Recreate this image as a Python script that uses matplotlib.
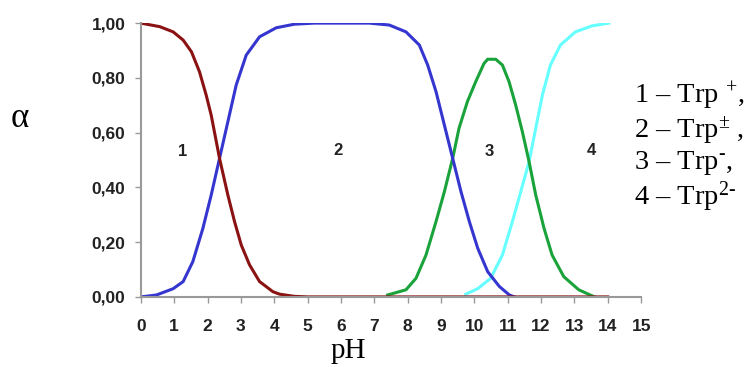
import matplotlib
matplotlib.use("Agg")
from matplotlib import pyplot as plt

# values
ph_1 = [0, 0.57, 0.97, 1.27, 1.52, 1.76, 1.96, 2.11, 2.36, 2.61, 2.81, 3.01, 3.26, 3.56, 3.96, 4.16,
        4.6, 5.0, 7.0, 9.0, 11.0, 14.0]
a_1 = [1.0, 0.987, 0.968, 0.938, 0.895, 0.822, 0.737, 0.664, 0.506, 0.372, 0.275, 0.19, 0.117, 0.056, 0.019, 0.01,
       0.002, 0.0, 0.0, 0.0, 0.0, 0.0]

ph_2 = [0, 0.47, 0.97, 1.27, 1.56, 1.86, 2.11, 2.36, 2.61, 2.86, 3.16, 3.56, 4.06, 4.6, 5.2, 6.85,
        7.45, 7.95, 8.35, 8.6, 8.85, 9.1, 9.35, 9.6, 9.85, 10.1, 10.4, 10.75, 11.05, 11.2]
a_2 = [0.0, 0.007, 0.03, 0.056, 0.129, 0.25, 0.372, 0.506, 0.64, 0.774, 0.883, 0.95, 0.983, 0.996, 1.0, 1.0,
       0.993, 0.968, 0.92, 0.847, 0.75, 0.628, 0.506, 0.384, 0.275, 0.178, 0.092, 0.038, 0.007, 0.0]

ph_3 = [7.4, 7.95, 8.25, 8.55, 8.85, 9.1, 9.35, 9.54, 9.79, 10.04, 10.29, 10.4, 10.64, 10.84, 11.04, 11.24,
        11.44, 11.64, 11.84, 12.09, 12.33, 12.68, 13.13, 13.58]
a_3 = [0.007, 0.026, 0.068, 0.153, 0.275, 0.384, 0.506, 0.616, 0.713, 0.786, 0.853, 0.868, 0.868, 0.847, 0.786, 0.70,
       0.603, 0.494, 0.372, 0.25, 0.153, 0.074, 0.026, 0.001]

ph_4 = [9.74, 10.1, 10.49, 10.84, 11.14, 11.39, 11.64, 11.84, 12.04, 12.28, 12.58, 13.03, 13.53, 14.03]
a_4 = [0.01, 0.03, 0.068, 0.153, 0.275, 0.384, 0.494, 0.616, 0.737, 0.847, 0.92, 0.968, 0.99, 1.0]

area_labels = ["1", "2", "3", "4"]
area_x = [1.26, 5.92, 10.44, 13.52]
area_y = [0.53, 0.535, 0.53, 0.535]

legend_lines = ["1 – Trp $^{+}$,", "2 – Trp$^{\u00b1}$ ,", "3 – Trp$^{\u2010}$,", "4 – Trp$^{2\u2010}$"]

x_ticks = list(range(16))
y_ticks = [0, 0.2, 0.4, 0.6, 0.8, 1.0]
y_txt = ["0,00", "0,20", "0,40", "0,60", "0,80", "1,00"]

plt.rcParams['mathtext.fontset'] = 'custom'
plt.rcParams['mathtext.rm'] = 'Liberation Serif'
plt.rcParams['mathtext.it'] = 'Liberation Serif'

fig = plt.figure(figsize=(7.49, 3.67), dpi=100)
ax = fig.add_axes([0.188, 0.191, 0.668, 0.746])

lw = 2.2
ax.plot(ph_4, a_4, color="#66ffff", lw=lw, solid_joinstyle="round")
ax.plot(ph_3, a_3, color="#1aa33a", lw=lw, solid_joinstyle="round")
ax.plot(ph_2, a_2, color="#3535d0", lw=lw, solid_joinstyle="round")
ax.plot(ph_1, a_1, color="#8b1212", lw=lw, solid_joinstyle="round")

for lab, x, y in zip(area_labels, area_x, area_y):
    ax.text(x, y, lab, ha="center", va="center", fontsize=12, fontweight="bold",
            family="Liberation Sans", color="#222222")

ax.set_xlim(0, 15)
ax.set_ylim(0, 1.0)
ax.set_xticks(x_ticks)
ax.set_xticklabels([str(t) for t in x_ticks])
ax.set_yticks(y_ticks)
ax.set_yticklabels(y_txt)
for lbl in ax.get_xticklabels() + ax.get_yticklabels():
    lbl.set_fontweight("bold")
    lbl.set_family("Liberation Sans")
    lbl.set_fontsize(12.5)
    lbl.set_color("#222222")
ax.tick_params(axis="both", color="#999999", length=4, width=1)
ax.tick_params(axis="x", pad=12)
ax.tick_params(axis="y", pad=7)

ax.spines["top"].set_visible(False)
ax.spines["right"].set_visible(False)
for s in ["left", "bottom"]:
    ax.spines[s].set_color("#999999")
    ax.spines[s].set_linewidth(1.5)
ax.patch.set_visible(False)

fig.text(0.027, 0.676, "α", fontsize=25, family="Liberation Serif", ha="center", va="center")
fig.text(0.465, 0.025, "pH", fontsize=21, family="Liberation Serif", ha="center", va="baseline")

legend_y = [0.736, 0.646, 0.556, 0.463]
for line, y in zip(legend_lines, legend_y):
    fig.text(0.846, y, line, fontsize=20.5, family="Liberation Serif", ha="left", va="center")

plt.savefig("out.png", dpi=100)
